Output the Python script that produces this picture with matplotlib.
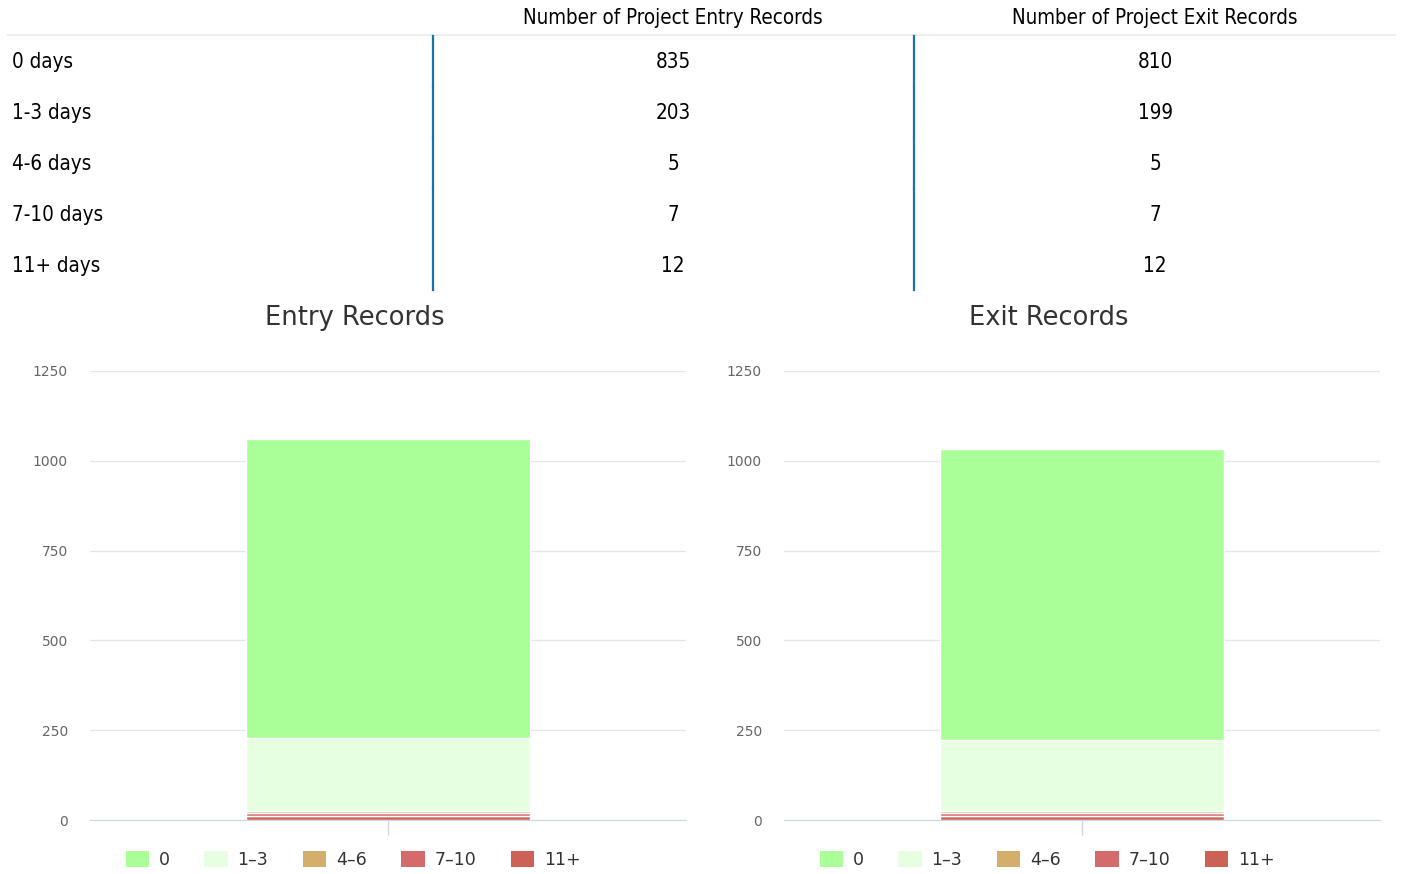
import numpy as np
import matplotlib
matplotlib.use("Agg")
import matplotlib.pyplot as plt
from matplotlib.lines import Line2D
from matplotlib.patches import Patch

# data
buckets = ["0 days", "1-3 days", "4-6 days", "7-10 days", "11+ days"]
series_names = ["0", "1\u20133", "4\u20136", "7\u201310", "11+"]
entry_counts = [835, 203, 5, 7, 12]
exit_counts = [810, 199, 5, 7, 12]
col_headers = ["Number of Project Entry Records", "Number of Project Exit Records"]
chart_titles = ["Entry Records", "Exit Records"]
colors = ["#aaff99", "#e6ffe0", "#d4af6b", "#d46a6a", "#cd6155"]
yticks = [0, 250, 500, 750, 1000, 1250]

W, H = 1401, 874
fig = plt.figure(figsize=(W / 100, H / 100), dpi=100)

def fx(x):
    return x / W

def fy(y):
    return 1 - y / H

tkw = dict(family="DejaVu Sans", stretch="condensed", fontsize=14.8, color="#000000")

# table on top
col_x = [673, 1155]
sep_x = [433, 914]
for cx, txt in zip(col_x, col_headers):
    fig.text(fx(cx), fy(18), txt, ha="center", va="center", **tkw)
fig.add_artist(Line2D([fx(8), fx(1395)], [fy(35), fy(35)], color="#eeeeee", lw=1.5))

row_top = 36
row_h = 51
for i, lab in enumerate(buckets):
    yc = row_top + row_h * i + 26
    fig.text(fx(12), fy(yc), lab, ha="left", va="center", **tkw)
    for cx, vals in zip(col_x, [entry_counts, exit_counts]):
        fig.text(fx(cx), fy(yc), str(vals[i]), ha="center", va="center", **tkw)
    for sx in sep_x:
        fig.add_artist(Line2D([fx(sx), fx(sx)],
                              [fy(row_top + row_h * i), fy(row_top + row_h * (i + 1) - 1.5)],
                              color="#1a73a8", lw=1.6))

# stacked charts
panels = [(90, entry_counts, chart_titles[0], 355), (784, exit_counts, chart_titles[1], 1049)]
for left, counts, title, tx in panels:
    ax = fig.add_axes([fx(left), fy(820), 596 / W, 449 / H])
    ax.set_xlim(-0.5, 0.5)
    ax.set_ylim(0, 1250)
    bottom = 0
    # first series sits on top of the stack
    for name, val, col in reversed(list(zip(series_names, counts, colors))):
        ax.bar(0, val, width=0.478, bottom=bottom, color=col, edgecolor="white",
               linewidth=1, zorder=3, label=name)
        bottom += val
    ax.set_yticks(yticks)
    ax.set_yticklabels([str(t) for t in yticks], fontsize=10, color="#666666")
    ax.tick_params(axis="y", length=0, pad=16)
    ax.set_xticks([0])
    ax.set_xticklabels([""])
    ax.tick_params(axis="x", length=11, color="#ccd6eb", width=1)
    ax.grid(axis="y", color="#e6e6e6", lw=1, zorder=0)
    for s in ["top", "right", "left"]:
        ax.spines[s].set_visible(False)
    ax.spines["bottom"].set_color("#ccd6eb")
    ax.spines["bottom"].set_zorder(4)
    fig.text(fx(tx), fy(318), title, ha="center", va="center", fontsize=18.5,
             color="#333333")
    handles = [Patch(facecolor=c, edgecolor="none") for c in colors]
    leg = fig.legend(handles, series_names, loc="center", ncol=5, frameon=False,
                     bbox_to_anchor=(fx(tx - 2), fy(860)), fontsize=12.5,
                     handlelength=1.35, handleheight=1.05, columnspacing=2.0,
                     handletextpad=0.55)
    for t in leg.get_texts():
        t.set_color("#333333")

fig.savefig("out.png", dpi=100, facecolor="white")
